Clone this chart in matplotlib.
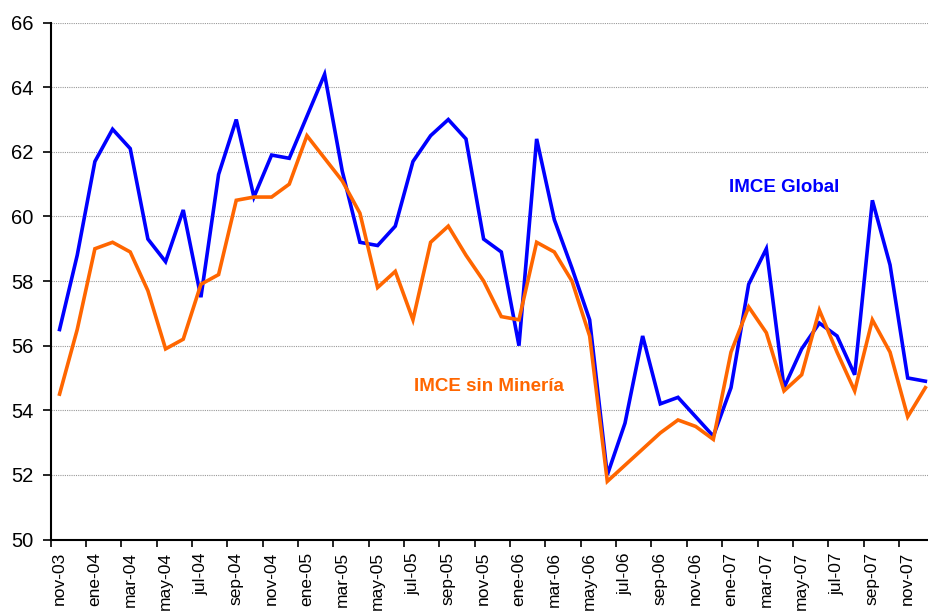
import matplotlib.pyplot as plt

# ======= IMCE monthly index, nov-03 .. dic-07 =======
imce_global = [
    56.5, 58.8, 61.7, 62.7, 62.1, 59.3, 58.6, 60.2, 57.5, 61.3,
    63.0, 60.6, 61.9, 61.8, 63.1, 64.4, 61.4, 59.2, 59.1, 59.7,
    61.7, 62.5, 63.0, 62.4, 59.3, 58.9, 56.0, 62.4, 59.9, 58.4,
    56.8, 52.0, 53.6, 56.3, 54.2, 54.4, 53.8, 53.2, 54.7, 57.9,
    59.0, 54.7, 55.9, 56.7, 56.3, 55.1, 60.5, 58.5, 55.0, 54.9,
]
imce_sin_mineria = [
    54.5, 56.5, 59.0, 59.2, 58.9, 57.7, 55.9, 56.2, 57.9, 58.2,
    60.5, 60.6, 60.6, 61.0, 62.5, 61.8, 61.1, 60.1, 57.8, 58.3,
    56.8, 59.2, 59.7, 58.8, 58.0, 56.9, 56.8, 59.2, 58.9, 58.0,
    56.3, 51.8, 52.3, 52.8, 53.3, 53.7, 53.5, 53.1, 55.8, 57.2,
    56.4, 54.6, 55.1, 57.1, 55.8, 54.6, 56.8, 55.8, 53.8, 54.7,
]
tick_labels = [
    "nov-03", "ene-04", "mar-04", "may-04", "jul-04", "sep-04", "nov-04",
    "ene-05", "mar-05", "may-05", "jul-05", "sep-05", "nov-05",
    "ene-06", "mar-06", "may-06", "jul-06", "sep-06", "nov-06",
    "ene-07", "mar-07", "may-07", "jul-07", "sep-07", "nov-07",
]
# =====================================================

plt.rcParams['font.family'] = ['Liberation Sans', 'DejaVu Sans']

fig = plt.figure(figsize=(9.29, 6.11), dpi=100)
ax = fig.add_axes([0.0546, 0.117, 0.951, 0.846])

x = range(len(imce_global))
ax.plot(x, imce_global, color='#0000ff', lw=2.6, solid_joinstyle='miter')
ax.plot(x, imce_sin_mineria, color='#ff6600', lw=2.6, solid_joinstyle='miter')

ax.text(41.0, 60.9, "IMCE Global", color='#0000ff', fontsize=13.5,
        fontweight='bold', ha='center', va='center')
ax.text(24.3, 54.75, "IMCE sin Minería", color='#ff6600', fontsize=13.5,
        fontweight='bold', ha='center', va='center')

ax.set_xlim(-0.5, len(imce_global) - 0.5)
ax.set_ylim(50, 66)
ax.set_yticks(range(50, 67, 2))
ax.set_xticks(range(0, len(imce_global), 2))
ax.set_xticklabels(tick_labels, rotation=90)
ax.set_xticks([i - 0.5 for i in range(0, len(imce_global) + 1, 2)], minor=True)

ax.tick_params(axis='y', labelsize=14.5, length=5.5, width=1.2, pad=7, direction='out')
ax.tick_params(axis='x', which='major', labelsize=12.5, length=0, pad=9)
ax.tick_params(axis='x', which='minor', length=5, width=1.2, direction='out')

ax.grid(axis='y', color='#999999', linestyle=(0, (1, 1)), linewidth=0.8)
ax.set_axisbelow(True)
for s in ['top', 'right']:
    ax.spines[s].set_visible(False)
for s in ['left', 'bottom']:
    ax.spines[s].set_linewidth(1.5)

fig.savefig("out.png", dpi=100)
